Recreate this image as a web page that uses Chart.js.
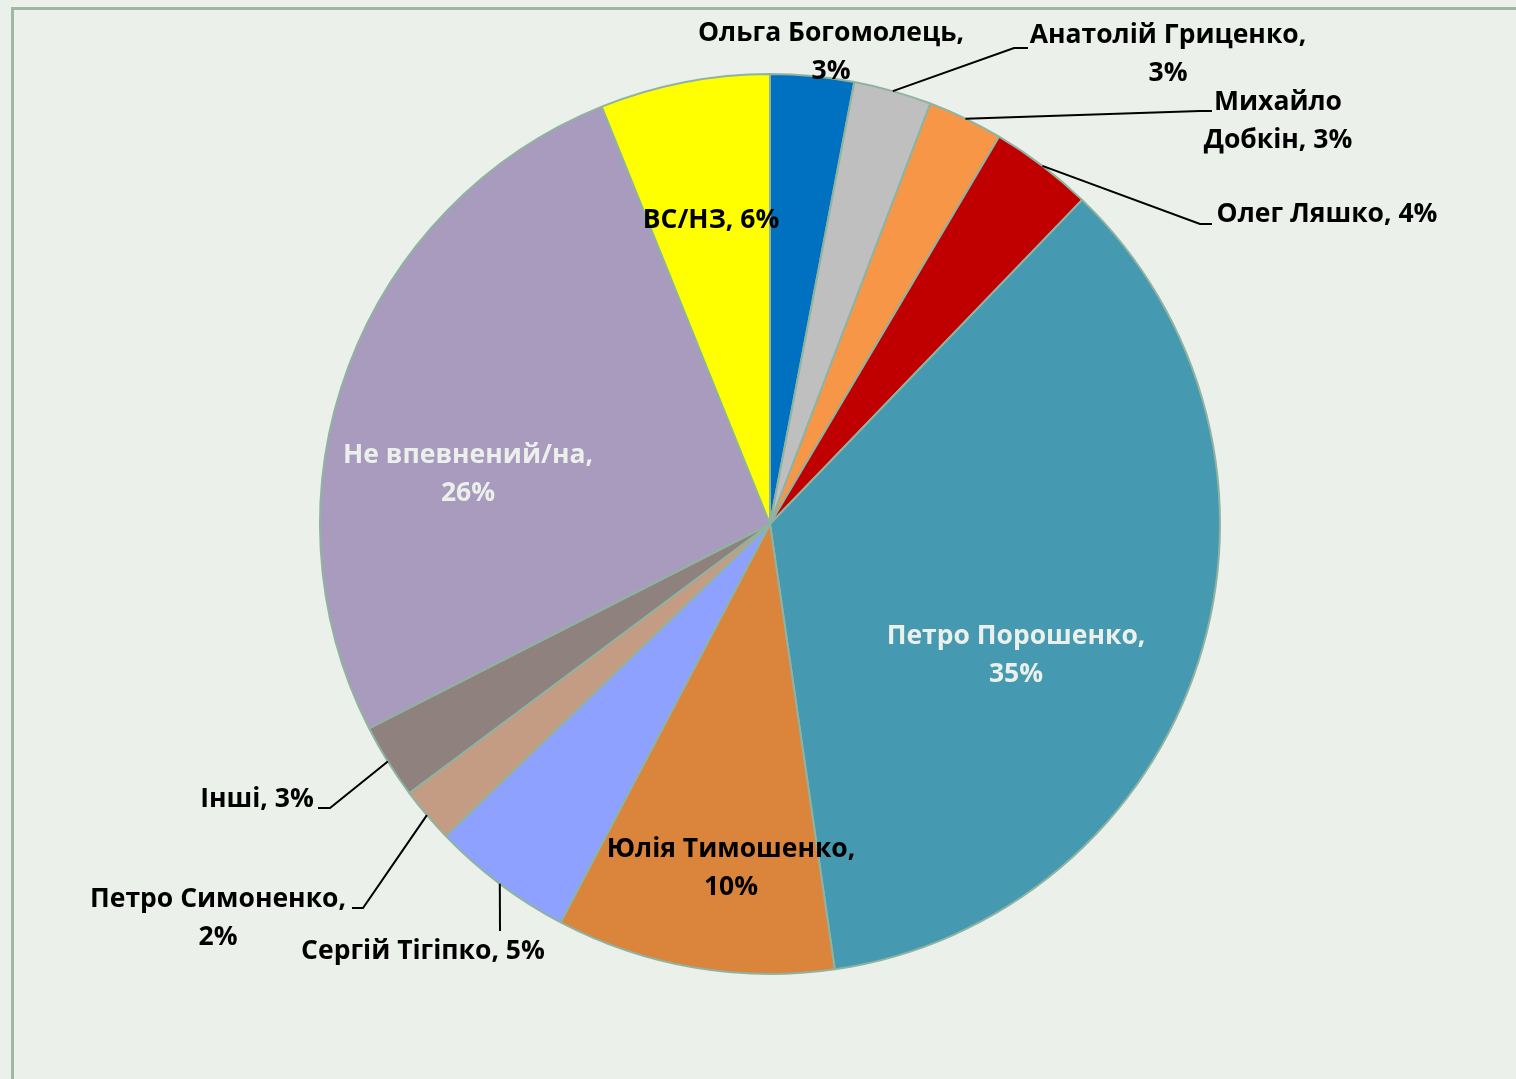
<!DOCTYPE html>
<html>
<head>
<meta charset="utf-8">
<script src="https://cdn.jsdelivr.net/npm/chart.js@4.4.1/dist/chart.umd.min.js"></script>
<style>
    html, body { margin: 0; padding: 0; background: #EBF0EB; overflow: hidden; }
    #wrap { position: relative; width: 1516px; height: 1079px; }
    #frame {
        position: absolute; left: 11px; top: 7px; width: 2000px; height: 2000px;
        border-left: 3px solid #9DB8A3; border-top: 3px solid #9DB8A3;
    }
    canvas { position: absolute; left: 0; top: 0; }
</style>
</head>
<body>
<div id="wrap">
    <div id="frame"></div>
    <canvas id="pollChart" width="1516" height="1079"></canvas>
</div>
<script>
// Poll data, clockwise from 12 o'clock
const candidates = [
    'Ольга Богомолець', 'Анатолій Гриценко', 'Михайло Добкін', 'Олег Ляшко',
    'Петро Порошенко', 'Юлія Тимошенко', 'Сергій Тігіпко', 'Петро Симоненко',
    'Інші', 'Не впевнений/на', 'ВС/НЗ'
];
const shares = [3.0, 2.8, 2.7, 3.7, 35.5, 10.0, 5.1, 2.0, 2.7, 26.4, 6.1];
const shareLabels = ['3%', '3%', '3%', '4%', '35%', '10%', '5%', '2%', '3%', '26%', '6%'];

const sliceColors = [
    '#0070C0', '#BFBFBF', '#F79646', '#C00000', '#4599B0', '#DA843C',
    '#8EA1FF', '#C49C84', '#8F827E', '#A99BBE', '#FFFF00'
];

// Label layout: block centre, line break mode, text colour, leader elbow/end
// wrap: 'pct' -> name, / pct ; 'one' -> single line ; 'word' -> first word / rest
const labelLayout = [
    { x: 831,  y: 52,  wrap: 'pct',  color: '#000' },
    { x: 1168, y: 54,  wrap: 'pct',  color: '#000', elbow: [1014, 48], end: [1028, 48] },
    { x: 1278, y: 121, wrap: 'word', color: '#000', elbow: [1200, 111], end: [1212, 111] },
    { x: 1327, y: 214, wrap: 'one',  color: '#000', elbow: [1200, 224], end: [1212, 224] },
    { x: 1016, y: 655, wrap: 'pct',  color: '#EBF0EB' },
    { x: 731,  y: 868, wrap: 'pct',  color: '#000' },
    { x: 423,  y: 951, wrap: 'one',  color: '#000', elbow: [500, 931], end: [500, 931] },
    { x: 218,  y: 918, wrap: 'pct',  color: '#000', elbow: [363, 908], end: [352, 908] },
    { x: 257,  y: 799, wrap: 'one',  color: '#000', elbow: [330, 808], end: [318, 808] },
    { x: 468,  y: 474, wrap: 'pct',  color: '#EBF0EB' },
    { x: 711,  y: 220, wrap: 'one',  color: '#000' }
];

function labelLines(i) {
    const name = candidates[i];
    const pct = shareLabels[i];
    const mode = labelLayout[i].wrap;
    if (mode === 'one') return [name + ', ' + pct];
    if (mode === 'word') {
        const sp = name.indexOf(' ');
        return [name.slice(0, sp), name.slice(sp + 1) + ', ' + pct];
    }
    return [name + ',', pct];
}

// Draws data labels and leader lines
const sliceLabels = {
    id: 'sliceLabels',
    afterDatasetsDraw(chart) {
        const ctx = chart.ctx;
        const arcs = chart.getDatasetMeta(0).data;
        ctx.save();
        arcs.forEach((arc, i) => {
            const lay = labelLayout[i];
            if (lay.elbow) {
                const mid = (arc.startAngle + arc.endAngle) / 2;
                const r = arc.outerRadius;
                ctx.beginPath();
                ctx.moveTo(arc.x + Math.cos(mid) * r, arc.y + Math.sin(mid) * r);
                ctx.lineTo(lay.elbow[0], lay.elbow[1]);
                ctx.lineTo(lay.end[0], lay.end[1]);
                ctx.strokeStyle = '#000';
                ctx.lineWidth = 2;
                ctx.stroke();
            }
            const lines = labelLines(i);
            const lh = 38;
            ctx.font = 'bold 26.5px "Open Sans"';
            ctx.fillStyle = lay.color;
            ctx.textAlign = 'center';
            ctx.textBaseline = 'middle';
            lines.forEach((t, k) => {
                ctx.fillText(t, lay.x, lay.y + (k - (lines.length - 1) / 2) * lh);
            });
        });
        ctx.restore();
    }
};

new Chart(document.getElementById('pollChart'), {
    type: 'pie',
    data: {
        labels: candidates,
        datasets: [{
            data: shares,
            backgroundColor: sliceColors,
            borderColor: '#8FB3A0',
            borderWidth: 2
        }]
    },
    options: {
        responsive: false,
        animation: false,
        layout: { padding: { left: 319, right: 295, top: 73, bottom: 104 } },
        plugins: {
            legend: { display: false },
            tooltip: { enabled: false }
        }
    },
    plugins: [sliceLabels]
});
</script>
</body>
</html>
